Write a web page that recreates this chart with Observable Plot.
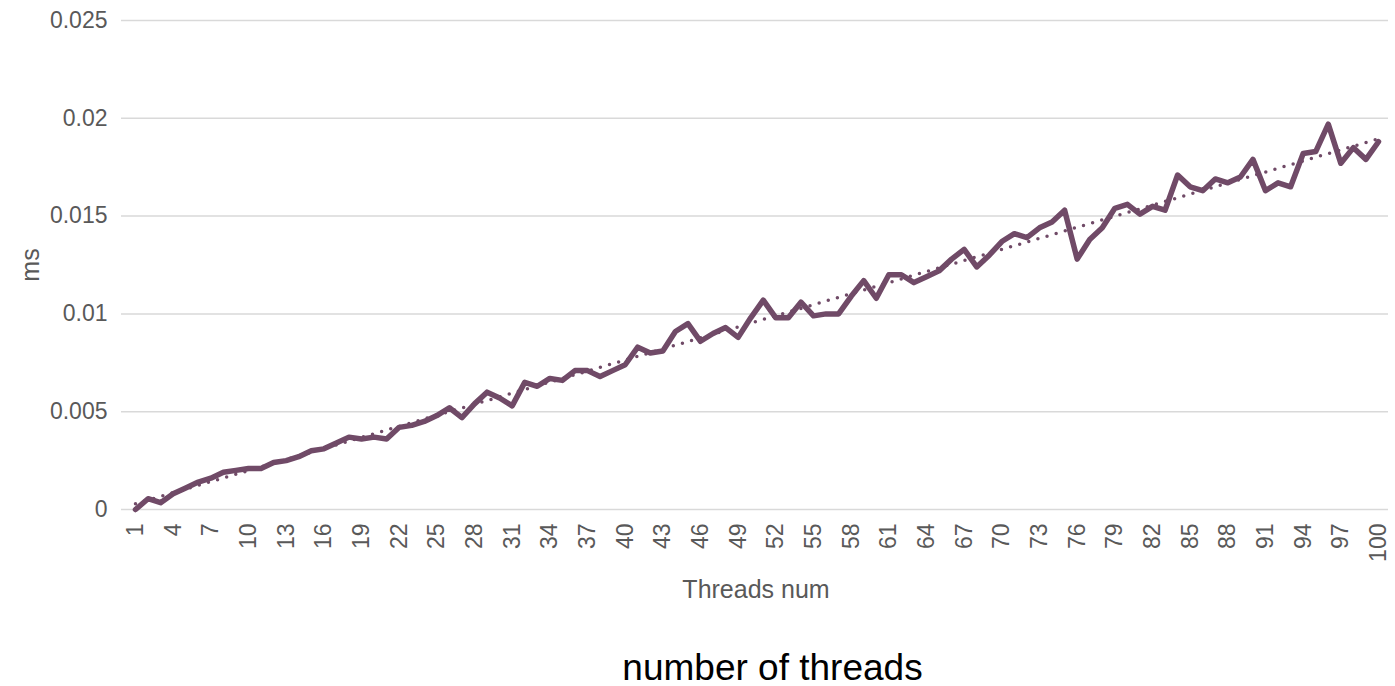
<!DOCTYPE html>
<html>
<head>
<meta charset="utf-8">
<script src="https://cdn.jsdelivr.net/npm/d3@7"></script>
<script src="https://cdn.jsdelivr.net/npm/@observablehq/plot@0.6"></script>
<style>
  html, body { margin: 0; padding: 0; background: #fff; }
  body { width: 1395px; height: 686px; overflow: hidden; font-family: "Liberation Sans", Arial, sans-serif; }
  #chart svg { display: block; }
  #caption { position: absolute; left: 0; top: 651px; width: 1395px; padding-left: 150px; box-sizing: border-box;
             text-align: center; font-size: 37px; line-height: 33px; color: #000; font-family: "Liberation Sans", Arial, sans-serif; }
</style>
</head>
<body>
<div id="chart"></div>
<div id="caption">number of threads</div>
<script>
const threads = [1,2,3,4,5,6,7,8,9,10,11,12,13,14,15,16,17,18,19,20,21,22,23,24,25,26,27,28,29,30,
  31,32,33,34,35,36,37,38,39,40,41,42,43,44,45,46,47,48,49,50,51,52,53,54,55,56,57,58,59,60,
  61,62,63,64,65,66,67,68,69,70,71,72,73,74,75,76,77,78,79,80,81,82,83,84,85,86,87,88,89,90,
  91,92,93,94,95,96,97,98,99,100];
const ms = [0.0000,0.00055,0.00035,0.0008,0.0011,0.0014,0.0016,0.0019,0.0020,0.0021,
  0.0021,0.0024,0.0025,0.0027,0.0030,0.0031,0.0034,0.0037,0.0036,0.0037,
  0.0036,0.0042,0.0043,0.0045,0.0048,0.0052,0.0047,0.0054,0.0060,0.0057,
  0.0053,0.0065,0.0063,0.0067,0.0066,0.0071,0.0071,0.0068,0.0071,0.0074,
  0.0083,0.0080,0.0081,0.0091,0.0095,0.0086,0.0090,0.0093,0.0088,0.0098,
  0.0107,0.0098,0.0098,0.0106,0.0099,0.0100,0.0100,0.0109,0.0117,0.0108,
  0.0120,0.0120,0.0116,0.0119,0.0122,0.0128,0.0133,0.0124,0.0130,0.0137,
  0.0141,0.0139,0.0144,0.0147,0.0153,0.0128,0.0138,0.0144,0.0154,0.0156,
  0.0151,0.0155,0.0153,0.0171,0.0165,0.0163,0.0169,0.0167,0.0170,0.0179,
  0.0163,0.0167,0.0165,0.0182,0.0183,0.0197,0.0177,0.0185,0.0179,0.0188];
const xTicks = [1,4,7,10,13,16,19,22,25,28,31,34,37,40,43,46,49,52,55,58,61,64,67,70,73,76,79,82,85,88,91,94,97,100];
const yTicks = [0,0.005,0.01,0.015,0.02,0.025];

const data = threads.map((t, i) => ({t, v: ms[i]}));
const lineColor = "#704a67";
const gray = "#595959";

const chart = Plot.plot({
  width: 1395,
  height: 630,
  marginLeft: 128,
  marginRight: 12,
  marginTop: 20,
  marginBottom: 121,
  insetLeft: 7,
  insetRight: 5,
  style: {fontFamily: "'Liberation Sans', Arial, sans-serif", color: gray, background: "#fff"},
  x: {domain: [1, 100]},
  y: {domain: [0, 0.025]},
  marks: [
    Plot.ruleY(yTicks, {y: d => d, stroke: "#d9d9d9", strokeWidth: 1.5, insetLeft: -7, insetRight: -5}),
    Plot.axisY({ticks: yTicks, tickFormat: d3.format("~g"), tickSize: 0, tickPadding: 21, fontSize: 23,
                label: "ms", labelAnchor: "center", labelArrow: "none", labelOffset: 107}),
    Plot.axisX({ticks: xTicks, tickFormat: d => String(d), tickSize: 0, tickPadding: 14, tickRotate: -90, fontSize: 23,
                label: "Threads num", labelAnchor: "center", labelArrow: "none", labelOffset: 88}),
    Plot.linearRegressionY(data, {x: "t", y: "v", ci: 0, stroke: lineColor, strokeWidth: 3.5,
                strokeDasharray: "0 9.5", strokeLinecap: "round", strokeOpacity: 1}),
    Plot.line(data, {x: "t", y: "v", stroke: lineColor, strokeWidth: 5.5, strokeLinejoin: "round", strokeLinecap: "round"})
  ]
});
chart.querySelectorAll("[aria-label='y-axis label'] text, [aria-label='x-axis label'] text").forEach(t => t.setAttribute("font-size", "25"));
document.getElementById("chart").appendChild(chart);
</script>
</body>
</html>
